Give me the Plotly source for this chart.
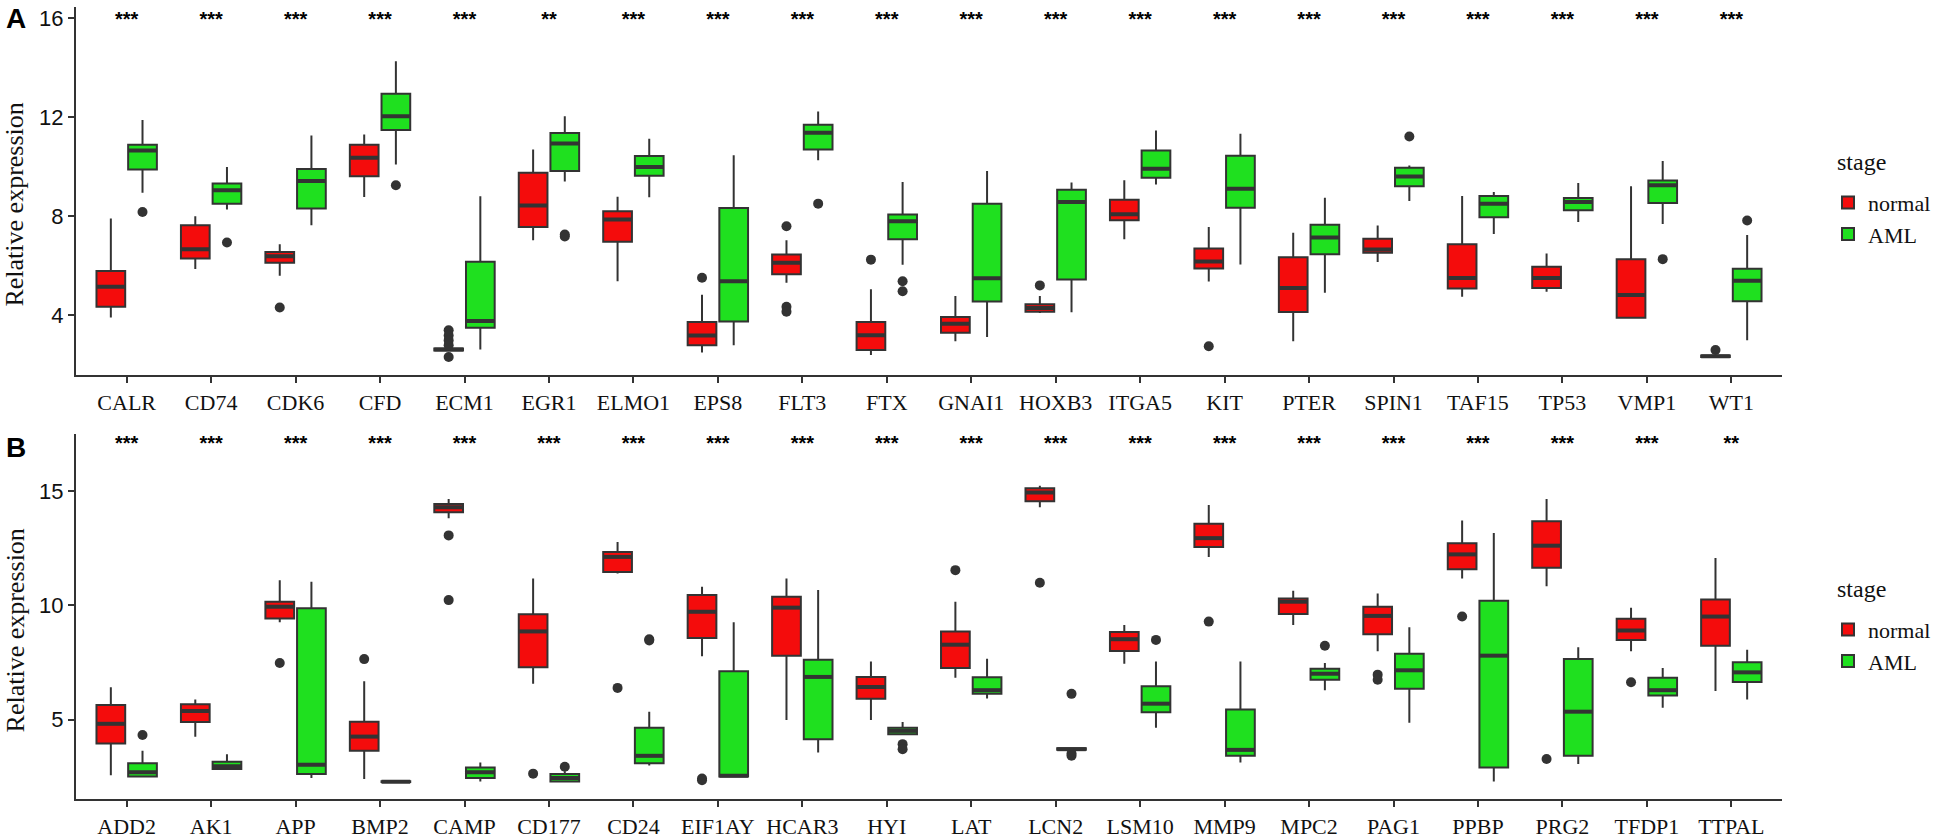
import plotly.graph_objects as go

# ---- panel A data ----
genes_a = ['CALR', 'CD74', 'CDK6', 'CFD', 'ECM1', 'EGR1', 'ELMO1', 'EPS8', 'FLT3', 'FTX',
           'GNAI1', 'HOXB3', 'ITGA5', 'KIT', 'PTER', 'SPIN1', 'TAF15', 'TP53', 'VMP1', 'WT1']
stars_a = ['***', '***', '***', '***', '***', '**', '***', '***', '***', '***',
           '***', '***', '***', '***', '***', '***', '***', '***', '***', '***']

# box stats: lower whisker, q1, median, q3, upper whisker
a_norm_lo = [3.91, 5.87, 5.60, 8.78, 2.55, 7.03, 5.38, 2.50, 5.32, 2.40,
             2.95, 4.10, 7.07, 5.37, 2.95, 6.15, 4.75, 4.95, 3.90, 2.30]
a_norm_q1 = [4.35, 6.30, 6.12, 9.62, 2.58, 7.57, 6.97, 2.79, 5.66, 2.60,
             3.30, 4.15, 7.84, 5.89, 4.14, 6.53, 5.08, 5.10, 3.90, 2.32]
a_norm_md = [5.15, 6.67, 6.39, 10.36, 2.62, 8.44, 7.87, 3.19, 6.12, 3.20,
             3.66, 4.30, 8.08, 6.17, 5.10, 6.66, 5.51, 5.51, 4.82, 2.35]
a_norm_q3 = [5.79, 7.64, 6.56, 10.89, 2.66, 9.76, 8.20, 3.73, 6.46, 3.73,
             3.93, 4.45, 8.67, 6.70, 6.35, 7.09, 6.87, 5.96, 6.27, 2.38]
a_norm_hi = [7.91, 8.00, 6.87, 11.30, 2.70, 10.70, 8.79, 4.83, 7.03, 5.05,
             4.78, 4.78, 9.45, 7.57, 7.33, 7.63, 8.82, 6.50, 9.21, 2.40]

a_aml_lo = [8.95, 8.27, 7.64, 10.09, 2.62, 9.40, 8.77, 2.79, 10.26, 6.04,
            3.13, 4.13, 9.28, 6.05, 4.91, 8.62, 7.28, 7.77, 7.69, 3.00]
a_aml_q1 = [9.89, 8.51, 8.31, 11.48, 3.50, 9.83, 9.64, 3.75, 10.70, 7.07,
            4.56, 5.45, 9.56, 8.34, 6.47, 9.21, 7.96, 8.24, 8.54, 4.57]
a_aml_md = [10.66, 9.05, 9.42, 12.04, 3.77, 10.94, 9.99, 5.38, 11.37, 7.80,
            5.50, 8.58, 9.92, 9.11, 7.14, 9.61, 8.51, 8.58, 9.25, 5.40]
a_aml_q3 = [10.89, 9.32, 9.91, 12.95, 6.16, 11.36, 10.43, 8.33, 11.69, 8.07,
            8.51, 9.07, 10.66, 10.44, 7.66, 9.96, 8.82, 8.74, 9.44, 5.88]
a_aml_hi = [11.89, 9.99, 11.26, 14.26, 8.81, 12.04, 11.13, 10.46, 12.23, 9.38,
            9.83, 9.36, 11.46, 11.33, 8.75, 10.05, 8.98, 9.34, 10.23, 7.24]

a_norm_out_gene = ['CDK6', 'ECM1', 'ECM1', 'ECM1', 'ECM1', 'ECM1', 'EPS8', 'FLT3', 'FLT3', 'FLT3',
                   'FTX', 'HOXB3', 'KIT', 'WT1']
a_norm_out_val = [4.32, 3.40, 3.19, 2.99, 2.79, 2.32, 5.52, 7.60, 4.35, 4.15,
                  6.25, 5.21, 2.75, 2.60]
a_aml_out_gene = ['CALR', 'CD74', 'CFD', 'EGR1', 'EGR1', 'FLT3', 'FTX', 'FTX', 'SPIN1', 'VMP1', 'WT1']
a_aml_out_val = [8.17, 6.94, 9.25, 7.26, 7.18, 8.51, 5.38, 4.97, 11.22, 6.27, 7.83]

# ---- panel B data ----
genes_b = ['ADD2', 'AK1', 'APP', 'BMP2', 'CAMP', 'CD177', 'CD24', 'EIF1AY', 'HCAR3', 'HYI',
           'LAT', 'LCN2', 'LSM10', 'MMP9', 'MPC2', 'PAG1', 'PPBP', 'PRG2', 'TFDP1', 'TTPAL']
stars_b = ['***', '***', '***', '***', '***', '***', '***', '***', '***', '***',
           '***', '***', '***', '***', '***', '***', '***', '***', '***', '**']

b_norm_lo = [2.57, 4.25, 9.26, 2.41, 13.81, 6.57, 11.39, 7.77, 4.99, 4.99,
             6.83, 14.29, 7.45, 12.12, 9.14, 7.99, 11.17, 10.84, 7.99, 6.25]
b_norm_q1 = [3.96, 4.90, 9.43, 3.64, 14.07, 7.29, 11.46, 8.57, 7.80, 5.91,
             7.26, 14.55, 8.00, 12.55, 9.62, 8.74, 11.58, 11.64, 8.49, 8.23]
b_norm_md = [4.82, 5.38, 9.94, 4.26, 14.29, 8.86, 12.12, 9.72, 9.90, 6.43,
             8.28, 14.94, 8.52, 12.94, 10.16, 9.54, 12.23, 12.61, 8.90, 9.51]
b_norm_q3 = [5.64, 5.67, 10.16, 4.91, 14.43, 9.61, 12.33, 10.45, 10.38, 6.87,
             8.86, 15.12, 8.83, 13.57, 10.30, 9.94, 12.72, 13.68, 9.41, 10.26]
b_norm_hi = [6.42, 5.88, 11.10, 6.68, 14.65, 11.17, 12.77, 10.81, 11.17, 7.55,
             10.16, 15.23, 9.14, 14.39, 10.64, 10.52, 13.71, 14.65, 9.90, 12.07]

b_aml_lo = [2.52, 2.81, 2.45, 2.25, 2.30, 2.30, 3.00, 2.50, 3.57, 4.36,
            5.93, 3.66, 4.65, 3.13, 6.29, 4.87, 2.30, 3.06, 5.52, 5.88]
b_aml_q1 = [2.52, 2.84, 2.62, 2.27, 2.45, 2.30, 3.09, 2.52, 4.14, 4.36,
            6.13, 3.68, 5.33, 3.42, 6.75, 6.35, 2.91, 3.42, 6.06, 6.65]
b_aml_md = [2.70, 2.96, 3.03, 2.29, 2.70, 2.45, 3.42, 2.55, 6.87, 4.51,
            6.29, 3.71, 5.70, 3.68, 7.01, 7.16, 7.80, 5.35, 6.29, 7.07]
b_aml_q3 = [3.09, 3.16, 9.87, 2.31, 2.91, 2.62, 4.65, 7.12, 7.62, 4.65,
            6.86, 3.75, 6.46, 5.45, 7.23, 7.88, 10.20, 7.65, 6.83, 7.51]
b_aml_hi = [3.64, 3.49, 11.03, 2.33, 3.13, 2.75, 5.35, 9.26, 10.67, 4.90,
            7.67, 3.78, 7.55, 7.55, 7.48, 9.04, 13.17, 8.17, 7.26, 8.06]

b_norm_out_gene = ['APP', 'BMP2', 'CAMP', 'CAMP', 'CD177', 'CD24', 'EIF1AY', 'EIF1AY', 'LAT', 'LCN2',
                   'MMP9', 'PAG1', 'PAG1', 'PPBP', 'PRG2', 'TFDP1']
b_norm_out_val = [7.48, 7.65, 13.06, 10.23, 2.64, 6.39, 2.43, 2.35, 11.54, 10.99,
                  9.29, 6.97, 6.75, 9.51, 3.28, 6.64]
b_aml_out_gene = ['ADD2', 'CD177', 'CD24', 'CD24', 'HYI', 'HYI', 'LCN2', 'LCN2', 'LCN2', 'LSM10', 'MPC2']
b_aml_out_val = [4.33, 2.94, 8.52, 8.46, 3.93, 3.71, 6.13, 3.52, 3.42, 8.49, 8.23]

STAR_Y_A = 15.9
STAR_Y_B = 17.0

RED = '#F40C0C'
GREEN = '#1FE01F'
LINE = '#333333'
DODGE = 0.1875
BOX_W = 0.34

fig = go.Figure()


def add_panel(genes, stats_n, stats_a, out_n, out_a, stars, star_y, xa, ya, legend):
    idx = list(range(len(genes)))
    for name, color, stats, off in [('normal', RED, stats_n, -DODGE), ('AML', GREEN, stats_a, DODGE)]:
        lo, q1, md, q3, hi = stats
        fig.add_trace(go.Box(
            x=[i + off for i in idx], lowerfence=lo, q1=q1, median=md, q3=q3, upperfence=hi,
            name=name, fillcolor=color, line=dict(color=LINE, width=2), width=BOX_W,
            whiskerwidth=0, boxpoints=False, xaxis=xa, yaxis=ya, legend=legend,
            hoverinfo='skip'))
        # thicker median bar, like ggplot's
        mx, my = [], []
        for i, m in zip(idx, md):
            mx += [i + off - BOX_W / 2, i + off + BOX_W / 2, None]
            my += [m, m, None]
        fig.add_trace(go.Scatter(x=mx, y=my, mode='lines', line=dict(color=LINE, width=4),
                                 showlegend=False, xaxis=xa, yaxis=ya, hoverinfo='skip'))
    for (g, v), off in [(out_n, -DODGE), (out_a, DODGE)]:
        fig.add_trace(go.Scatter(
            x=[genes.index(k) + off for k in g], y=v, mode='markers',
            marker=dict(color=LINE, size=10), showlegend=False, xaxis=xa, yaxis=ya,
            hoverinfo='skip'))
    fig.add_trace(go.Scatter(
        x=idx, y=[star_y] * len(idx), text=['<b>%s</b>' % s for s in stars], mode='text',
        textfont=dict(family='Liberation Sans', size=20, color='black'),
        showlegend=False, xaxis=xa, yaxis=ya, hoverinfo='skip'))


add_panel(genes_a,
          (a_norm_lo, a_norm_q1, a_norm_md, a_norm_q3, a_norm_hi),
          (a_aml_lo, a_aml_q1, a_aml_md, a_aml_q3, a_aml_hi),
          (a_norm_out_gene, a_norm_out_val), (a_aml_out_gene, a_aml_out_val),
          stars_a, STAR_Y_A, 'x', 'y', 'legend')
add_panel(genes_b,
          (b_norm_lo, b_norm_q1, b_norm_md, b_norm_q3, b_norm_hi),
          (b_aml_lo, b_aml_q1, b_aml_md, b_aml_q3, b_aml_hi),
          (b_norm_out_gene, b_norm_out_val), (b_aml_out_gene, b_aml_out_val),
          stars_b, STAR_Y_B, 'x2', 'y2', 'legend2')

xax = dict(range=[-0.6, 19.6], showline=True, linecolor=LINE, linewidth=2, ticks='outside',
           ticklen=6, tickwidth=2, tickcolor=LINE, showgrid=False, zeroline=False,
           tickfont=dict(family='Liberation Serif', size=22, color='#111111'))
yax = dict(showline=True, linecolor=LINE, linewidth=2, ticks='outside', ticklen=6, tickwidth=2,
           tickcolor=LINE, showgrid=False, zeroline=False,
           tickfont=dict(family='Liberation Sans', size=22, color='#111111'))

x0, x1 = 76 / 1950, 1782 / 1950
leg = dict(xanchor='left', yanchor='top', bgcolor='rgba(0,0,0,0)',
           font=dict(family='Liberation Serif', size=22, color='#111111'))
title_font = dict(family='Liberation Serif', size=24, color='#111111')

fig.update_layout(
    width=1950, height=839, margin=dict(l=0, r=0, t=0, b=0),
    paper_bgcolor='white', plot_bgcolor='white', boxmode='overlay',
    xaxis=dict(xax, domain=[x0, x1], anchor='y', tickvals=list(range(20)), ticktext=genes_a),
    yaxis=dict(yax, domain=[1 - 377 / 839, 1 - 6 / 839], anchor='x', range=[1.58, 16.45],
               tickvals=[4, 8, 12, 16]),
    xaxis2=dict(xax, domain=[x0, x1], anchor='y2', tickvals=list(range(20)), ticktext=genes_b),
    yaxis2=dict(yax, domain=[1 - 804 / 839, 1 - 436 / 839], anchor='x2', range=[1.52, 17.5],
                tickvals=[5, 10, 15]),
    legend=dict(leg, x=1828 / 1950, y=1 - 182 / 839),
    legend2=dict(leg, x=1828 / 1950, y=1 - 612 / 839),
    annotations=[
        dict(text='<b>A</b>', x=0.002, y=1 - 18 / 839, xref='paper', yref='paper',
             showarrow=False, xanchor='left', yanchor='middle',
             font=dict(family='Liberation Sans', size=28, color='black')),
        dict(text='<b>B</b>', x=0.002, y=1 - 450 / 839, xref='paper', yref='paper',
             showarrow=False, xanchor='left', yanchor='middle',
             font=dict(family='Liberation Sans', size=28, color='black')),
        dict(text='stage', x=1835 / 1950, y=1 - 162 / 839, xref='paper', yref='paper',
             showarrow=False, xanchor='left', yanchor='middle', font=title_font),
        dict(text='stage', x=1835 / 1950, y=1 - 592 / 839, xref='paper', yref='paper',
             showarrow=False, xanchor='left', yanchor='middle', font=title_font),
        dict(text='Relative expression', x=15 / 1950, y=1 - 205 / 839, xref='paper', yref='paper',
             showarrow=False, textangle=-90, xanchor='center', yanchor='middle',
             font=dict(family='Liberation Serif', size=26, color='#111111')),
        dict(text='Relative expression', x=15 / 1950, y=1 - 634 / 839, xref='paper', yref='paper',
             showarrow=False, textangle=-90, xanchor='center', yanchor='middle',
             font=dict(family='Liberation Serif', size=26, color='#111111')),
    ],
)

# the page body keeps an 8px margin by default, which pushes the figure past the window
fig.write_html('out.html', config={'displayModeBar': False},
               post_script="document.body.style.margin='0';")
